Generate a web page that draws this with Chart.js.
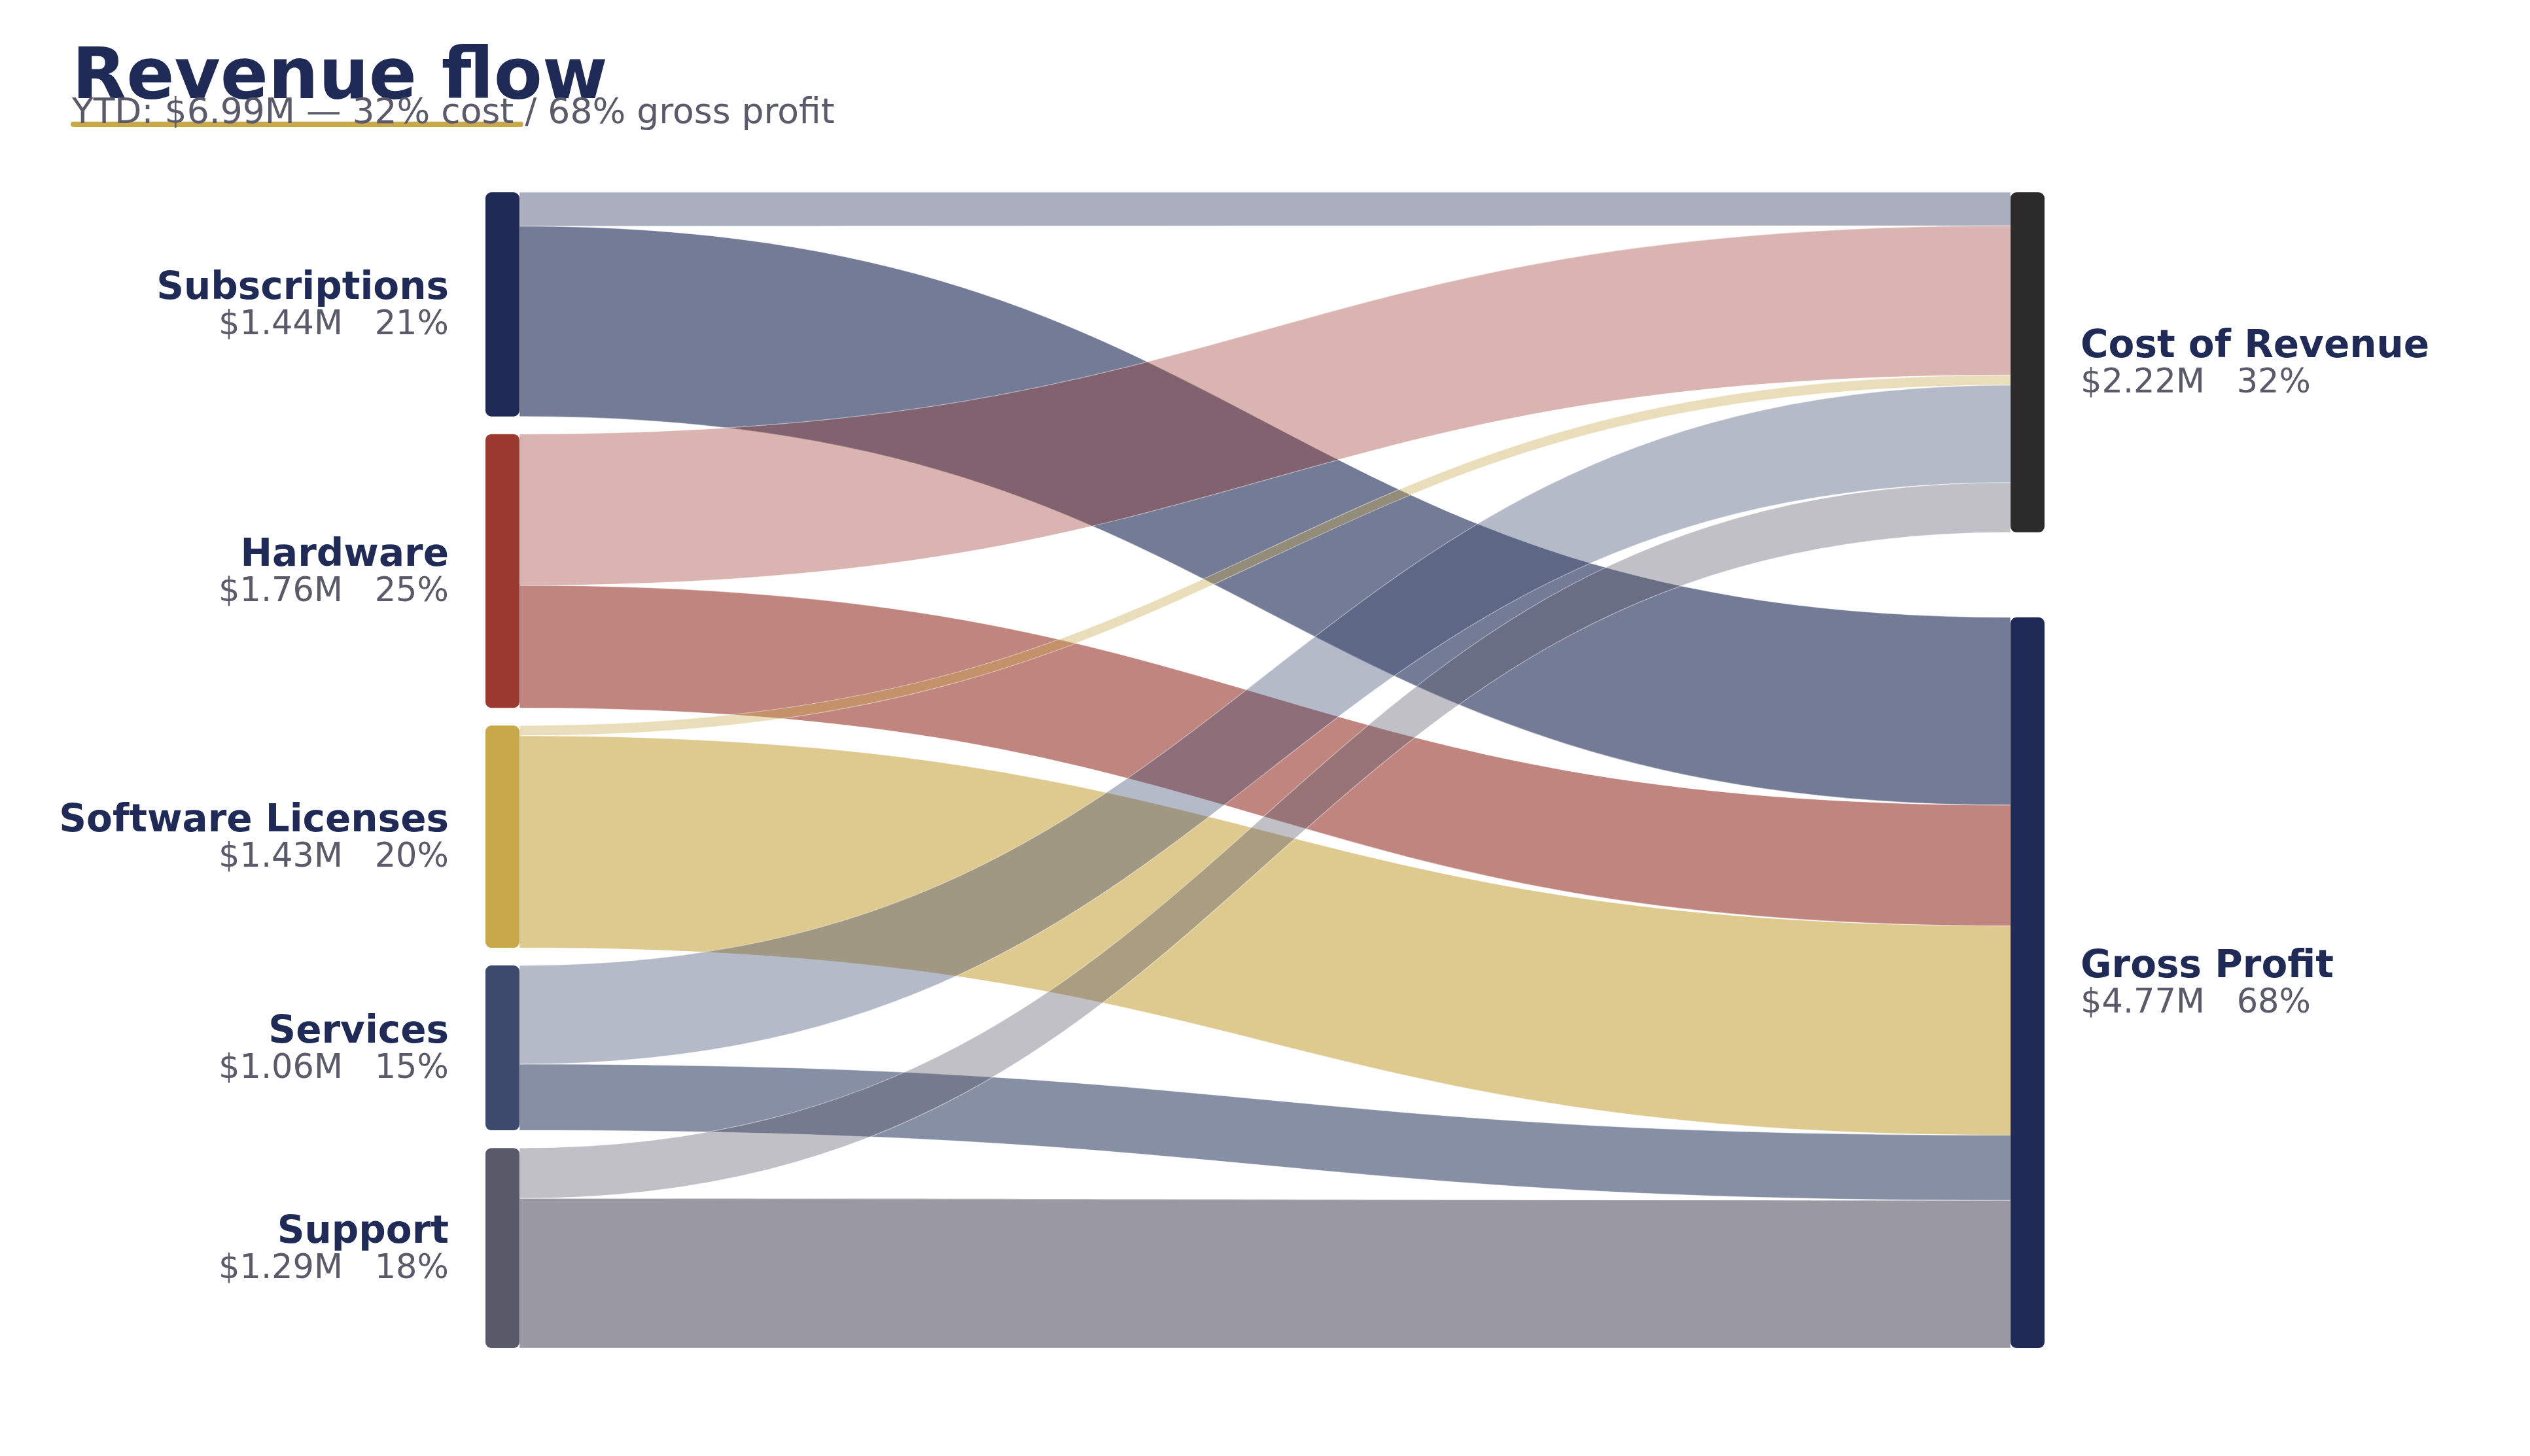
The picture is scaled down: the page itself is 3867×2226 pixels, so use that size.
<!DOCTYPE html>
<html>
<head>
<meta charset="utf-8">
<title>Revenue flow</title>
<script src="https://cdn.jsdelivr.net/npm/chart.js@4.4.1/dist/chart.umd.min.js"></script>
<style>
  html, body { margin: 0; padding: 0; background: #ffffff; }
  canvas { display: block; }
</style>
</head>
<body>
<canvas id="sankey" width="3867" height="2226"></canvas>
<script>
// revenue streams (left column) and where the money goes (right column), $M YTD
const sources = ['Subscriptions', 'Hardware', 'Software Licenses', 'Services', 'Support'];
const targets = ['Cost of Revenue', 'Gross Profit'];
const costOfRevenue = [0.218, 0.975, 0.066, 0.636, 0.325];
const grossProfit = [1.226, 0.789, 1.366, 0.426, 0.964];

const sourceColors = ['#1f2a56', '#9a3a31', '#c9a84a', '#3d4a6e', '#5a596a'];
const targetColors = ['#2b2b2b', '#1f2a56'];

const NAVY = '#1f2a56';
const GREY = '#5b5a6b';
const GOLD = '#c9a84a';
const FONT = '"DejaVu Sans", "Liberation Sans", sans-serif';

const flowValues = [costOfRevenue, grossProfit];
const sourceTotals = sources.map((_, i) => costOfRevenue[i] + grossProfit[i]);
const targetTotals = flowValues.map(arr => arr.reduce((a, b) => a + b, 0));
const grandTotal = sourceTotals.reduce((a, b) => a + b, 0);

// gap between stacked nodes, in $M on each column's own axis
const gapSource = 0.114;
const gapTarget = 0.555;
const nodeWidth = 52;

function money(v) { return '$' + v.toFixed(2) + 'M'; }
function pct(v) { return Math.round(v / grandTotal * 100) + '%'; }

function withAlpha(hex, a) {
  const n = parseInt(hex.slice(1), 16);
  return `rgba(${(n >> 16) & 255}, ${(n >> 8) & 255}, ${n & 255}, ${a})`;
}

const sankeyPlugin = {
  id: 'sankey',
  afterDatasetsDraw(chart) {
    const ctx = chart.ctx;
    const x = chart.scales.x;
    const ys = chart.scales.ySrc;
    const yt = chart.scales.yTgt;

    const leftX = x.getPixelForValue(0);
    const rightX = x.getPixelForValue(1);
    const x0 = leftX + nodeWidth;
    const x1 = rightX - nodeWidth;
    const xm = (x0 + x1) / 2;

    // node offsets
    const srcTop = [];
    let acc = 0;
    sourceTotals.forEach((v, i) => { srcTop.push(acc); acc += v + gapSource; });
    const tgtTop = [];
    acc = 0;
    targetTotals.forEach((v, j) => { tgtTop.push(acc); acc += v + gapTarget; });

    // flows, in source order: cost first, then gross profit
    const srcCursor = srcTop.slice();
    const tgtCursor = tgtTop.slice();
    ctx.save();
    sources.forEach((s, i) => {
      flowValues.forEach((arr, j) => {
        const v = arr[i];
        const sy0 = ys.getPixelForValue(srcCursor[i]);
        const sy1 = ys.getPixelForValue(srcCursor[i] + v);
        const ty0 = yt.getPixelForValue(tgtCursor[j]);
        const ty1 = yt.getPixelForValue(tgtCursor[j] + v);
        srcCursor[i] += v;
        tgtCursor[j] += v;
        ctx.beginPath();
        ctx.moveTo(x0, sy0);
        ctx.bezierCurveTo(xm, sy0, xm, ty0, x1, ty0);
        ctx.lineTo(x1, ty1);
        ctx.bezierCurveTo(xm, ty1, xm, sy1, x0, sy1);
        ctx.closePath();
        ctx.fillStyle = withAlpha(sourceColors[i], j === 0 ? 0.38 : 0.62);
        ctx.fill();
        ctx.strokeStyle = 'rgba(255,255,255,0.45)';
        ctx.lineWidth = 1.2;
        ctx.stroke();
      });
    });

    // nodes
    sources.forEach((s, i) => {
      const top = ys.getPixelForValue(srcTop[i]);
      const bot = ys.getPixelForValue(srcTop[i] + sourceTotals[i]);
      ctx.beginPath();
      ctx.roundRect(leftX, top, nodeWidth, bot - top, 9);
      ctx.fillStyle = sourceColors[i];
      ctx.fill();

      const mid = (top + bot) / 2;
      ctx.textAlign = 'right';
      ctx.textBaseline = 'alphabetic';
      ctx.fillStyle = NAVY;
      ctx.font = `bold 58px ${FONT}`;
      ctx.fillText(s, leftX - 56, mid - 8);
      ctx.fillStyle = GREY;
      ctx.font = `51px ${FONT}`;
      ctx.fillText(money(sourceTotals[i]) + '   ' + pct(sourceTotals[i]), leftX - 56, mid + 46);
    });
    targets.forEach((t, j) => {
      const top = yt.getPixelForValue(tgtTop[j]);
      const bot = yt.getPixelForValue(tgtTop[j] + targetTotals[j]);
      ctx.beginPath();
      ctx.roundRect(rightX - nodeWidth, top, nodeWidth, bot - top, 9);
      ctx.fillStyle = targetColors[j];
      ctx.fill();

      const mid = (top + bot) / 2;
      ctx.textAlign = 'left';
      ctx.textBaseline = 'alphabetic';
      ctx.fillStyle = NAVY;
      ctx.font = `bold 58px ${FONT}`;
      ctx.fillText(t, rightX + 55, mid - 8);
      ctx.fillStyle = GREY;
      ctx.font = `51px ${FONT}`;
      ctx.fillText(money(targetTotals[j]) + '   ' + pct(targetTotals[j]), rightX + 55, mid + 46);
    });

    // heading
    ctx.strokeStyle = GOLD;
    ctx.lineWidth = 8;
    ctx.lineCap = 'round';
    ctx.beginPath();
    ctx.moveTo(112, 190);
    ctx.lineTo(796, 190);
    ctx.stroke();

    ctx.textAlign = 'left';
    ctx.fillStyle = NAVY;
    ctx.font = `bold 108px ${FONT}`;
    ctx.fillText('Revenue flow', 110, 150);
    ctx.fillStyle = GREY;
    ctx.font = `53.5px ${FONT}`;
    ctx.fillText(`YTD: ${money(grandTotal)} \u2014 ${pct(targetTotals[0])} cost / ${pct(targetTotals[1])} gross profit`, 110, 188);
    ctx.restore();
  }
};

new Chart(document.getElementById('sankey'), {
  type: 'scatter',
  data: { datasets: [] },
  options: {
    responsive: false,
    devicePixelRatio: 1,
    animation: false,
    layout: { padding: { left: 742, right: 742, top: 294, bottom: 165 } },
    plugins: { legend: { display: false }, tooltip: { enabled: false } },
    scales: {
      x: { type: 'linear', min: 0, max: 1, display: false },
      ySrc: {
        type: 'linear', position: 'left', reverse: true, display: false,
        min: 0, max: grandTotal + gapSource * (sources.length - 1)
      },
      yTgt: {
        type: 'linear', position: 'right', reverse: true, display: false,
        min: 0, max: grandTotal + gapTarget * (targets.length - 1)
      }
    }
  },
  plugins: [sankeyPlugin]
});
</script>
</body>
</html>
